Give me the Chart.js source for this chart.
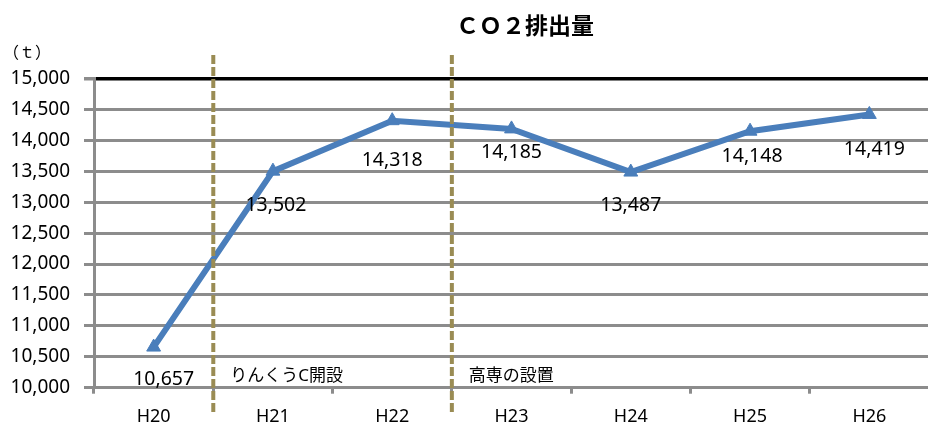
<!DOCTYPE html>
<html>
<head>
<meta charset="utf-8">
<script src="https://cdn.jsdelivr.net/npm/chart.js@4/dist/chart.umd.min.js"></script>
<style>
  html, body { margin: 0; padding: 0; background: #fff; overflow: hidden; }
  #wrap { position: relative; width: 938px; height: 425px; }
</style>
</head>
<body>
<div id="wrap"><canvas id="chart"></canvas></div>
<script>
const years = ["H20", "H21", "H22", "H23", "H24", "H25", "H26"];
const co2 = [10657, 13502, 14318, 14185, 13487, 14148, 14419];
const yTicks = [10000, 10500, 11000, 11500, 12000, 12500, 13000, 13500, 14000, 14500, 15000];
const events = [
  { after: 0, text: "りんくうC開設" },
  { after: 2, text: "高専の設置" },
];

const FONT = '"Noto Sans", "Noto Sans CJK JP", sans-serif';
const CJK = '"Noto Sans CJK JP", sans-serif';
const GRID = "#8c8c8c";
const OLIVE = "#9a8c54";
const BLUE = "#4a7ebb";

// label nudges below each point
const labelDy = [32, 34, 40, 24, 33, 25, 35];
const labelDx = [10, 3, 0, 0, 0, 2, 5];

const extras = {
  id: "extras",
  afterDatasetsDraw(chart) {
    const ctx = chart.ctx;
    const x = chart.scales.x;
    const area = chart.chartArea;
    const meta = chart.getDatasetMeta(0);

    // event dividers
    ctx.save();
    ctx.strokeStyle = OLIVE;
    ctx.lineWidth = 4;
    ctx.setLineDash([9, 3]);
    events.forEach((ev) => {
      const px = (x.getPixelForValue(ev.after) + x.getPixelForValue(ev.after + 1)) / 2;
      ctx.beginPath();
      ctx.moveTo(px, 55);
      ctx.lineTo(px, 413);
      ctx.stroke();
    });
    ctx.restore();

    ctx.save();
    ctx.fillStyle = "#000";
    ctx.font = "17px " + FONT;
    ctx.textBaseline = "middle";
    ctx.textAlign = "left";
    events.forEach((ev) => {
      const px = (x.getPixelForValue(ev.after) + x.getPixelForValue(ev.after + 1)) / 2;
      ctx.fillText(ev.text, px + 17, area.bottom - 12);
    });

    // value labels
    ctx.font = "19.5px " + FONT;
    ctx.textAlign = "center";
    meta.data.forEach((pt, i) => {
      ctx.fillText(co2[i].toLocaleString("en-US"), pt.x + labelDx[i], pt.y + labelDy[i]);
    });

    // title and unit
    ctx.font = "bold 23px " + CJK;
    ctx.fillText("ＣＯ２排出量", 525, 25);
    ctx.font = "16px " + CJK;
    ctx.textAlign = "left";
    ctx.fillText("（ｔ）", 3, 52);
    ctx.restore();
  },
};

new Chart(document.getElementById("chart"), {
  type: "line",
  data: {
    labels: years,
    datasets: [{
      label: "CO2排出量",
      data: co2,
      borderColor: BLUE,
      backgroundColor: BLUE,
      borderWidth: 6,
      pointStyle: "triangle",
      pointRadius: 8,
      pointBorderWidth: 1,
      pointBorderColor: BLUE,
      tension: 0,
    }],
  },
  options: {
    responsive: true,
    maintainAspectRatio: false,
    animation: false,
    layout: { padding: { top: 78.5, left: 0, right: 0, bottom: 0 } },
    plugins: {
      legend: { display: false },
      title: { display: false },
      tooltip: { enabled: false },
    },
    scales: {
      x: {
        offset: true,
        grid: {
          offset: true,
          drawOnChartArea: false,
          drawTicks: true,
          tickLength: 6,
          color: GRID,
          lineWidth: 3,
        },
        border: { color: GRID, width: 3 },
        ticks: { color: "#000", font: { family: FONT, size: 18 }, padding: 12 },
        afterFit(scale) { scale.height = 37.3; },
      },
      y: {
        min: 10000,
        max: 15000,
        afterBuildTicks(scale) { scale.ticks = yTicks.map((v) => ({ value: v })); },
        grid: {
          color: (c) => (c.tick && c.tick.value === 15000 ? "#000" : GRID),
          lineWidth: (c) => (c.tick && c.tick.value === 15000 ? 3.5 : 3),
          tickColor: GRID,
          tickLength: 10,
        },
        border: { color: GRID, width: 3 },
        ticks: {
          color: "#000",
          font: { family: FONT, size: 19 },
          padding: 14,
          callback: (v) => v.toLocaleString("en-US"),
        },
        afterFit(scale) { scale.width = 94; },
      },
    },
  },
  plugins: [extras],
});
</script>
</body>
</html>
